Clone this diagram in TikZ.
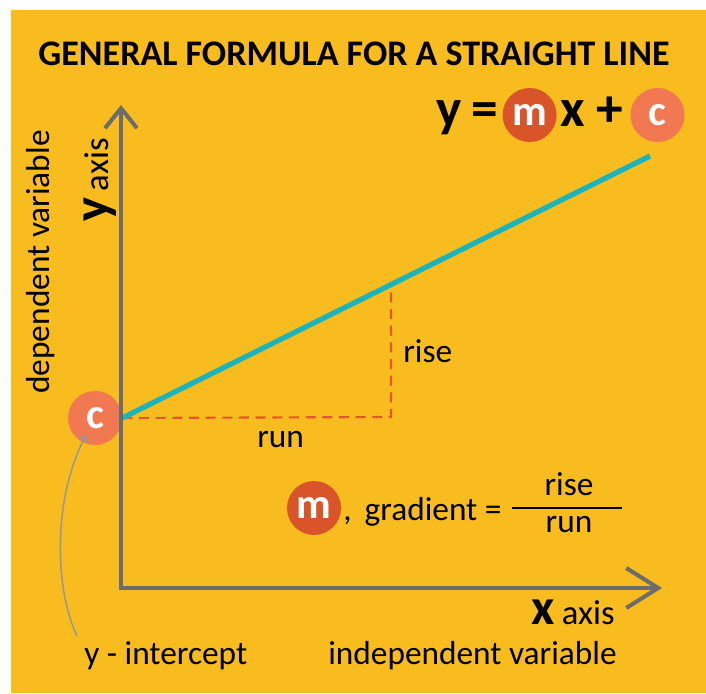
\documentclass[tikz,border=0pt]{standalone}
\usepackage{fontspec}
\setmainfont{Carlito}
\usetikzlibrary{arrows.meta}
\definecolor{bgorange}{RGB}{249,188,30}
\definecolor{mred}{RGB}{218,84,42}
\definecolor{csalmon}{RGB}{241,120,80}
\definecolor{axisgray}{RGB}{108,108,108}
\definecolor{lineteal}{RGB}{26,180,188}
\definecolor{dashred}{RGB}{226,88,42}
\definecolor{pointgray}{RGB}{150,150,150}
\tikzset{
  lbl/.style={inner sep=0pt, font=\fontsize{25}{28}\selectfont},
  badge/.style={circle, inner sep=0pt, minimum size=40.5pt, text=white, font=\fontsize{32}{32}\selectfont\bfseries},
  eqtxt/.style={inner sep=0pt, font=\fontsize{40}{42}\selectfont\bfseries},
  axisline/.style={draw=axisgray, line width=3pt},
  trendline/.style={draw=lineteal, line width=3.9pt},
  dashline/.style={draw=dashred, line width=1.6pt, dash pattern=on 7.5pt off 5pt},
  pointer/.style={draw=pointgray, line width=1.1pt, -{Straight Barb[length=4pt,width=7pt]}},
}
\begin{document}
\begin{tikzpicture}[x=0.75pt,y=-0.75pt]
\useasboundingbox (0,0) rectangle (706,693);
\fill[bgorange] (11,10) rectangle (706,693);

% title
\node[inner sep=0pt, font=\fontsize{27}{29}\selectfont\bfseries] (title) at (354,54) {GENERAL FORMULA FOR A STRAIGHT LINE};

% equation
\node[eqtxt, anchor=base] (eqy) at (449,126) {y};
\node[eqtxt, anchor=base] (eqeq) at (485,126) {=};
\node[badge, fill=mred] (eqm) at (529.6,115) {m};
\node[eqtxt, anchor=base] (eqx) at (572.5,126) {x};
\node[eqtxt, anchor=base] (eqplus) at (610,126) {+};
\node[badge, fill=csalmon] (eqc) at (657.5,115) {c};

% coordinates
\coordinate (origin) at (121,588);
\coordinate (ytop) at (121,105);
\coordinate (xend) at (662,588);
\coordinate (lineend) at (650,156);
\coordinate (corner) at (391,417);
\coordinate (risetop) at (391,290);
\coordinate (tipc) at (86,435);
\coordinate (pstart) at (77,636);

% y-intercept badge
\node[badge, fill=csalmon] (yint) at (95,418) {c};

% run / rise
\draw[dashline] (yint.east) -- (corner) -- (risetop);
% trend line
\draw[trendline] (yint.east) -- (lineend);

% axes
\draw[axisline, line join=miter, arrows={Straight Barb[length=15pt,width=24pt]-Straight Barb[length=24pt,width=30pt]}] (ytop) -- (origin) -- (xend);

% pointer to intercept
\draw[pointer] (pstart) .. controls (55,590) and (52,500) .. (tipc);

% labels
\node[lbl, anchor=base west] (rise) at (403,362) {rise};
\node[lbl, anchor=base west] (run) at (257,447) {run};
\node[lbl, rotate=90] (depvar) at (41,262) {dependent variable};
\node[inner sep=0pt, rotate=90, anchor=base west] (yaxis) at (108,222) {{\fontsize{38}{38}\selectfont\bfseries y}\hspace{5pt}{\fontsize{26}{28}\selectfont axis}};
\node[inner sep=0pt, anchor=base east] (xaxis) at (615,624) {{\fontsize{38}{38}\selectfont\bfseries x}\hspace{5pt}{\fontsize{26}{28}\selectfont axis}};
\node[lbl, anchor=base west] (yintlbl) at (84,664) {y - intercept};
\node[lbl, anchor=base west] (indvar) at (328,664) {independent variable};

% gradient
\node[badge, fill=mred] (gm) at (314,508) {m};
\node[lbl, anchor=base west] (gradtxt) at (343,520) {,\, gradient =};
\node[lbl, anchor=base] (num) at (569,495) {rise};
\node[lbl, anchor=base] (den) at (569,532) {run};
\draw[line width=1pt] (512,508) -- (622,508);
\end{tikzpicture}
\end{document}
